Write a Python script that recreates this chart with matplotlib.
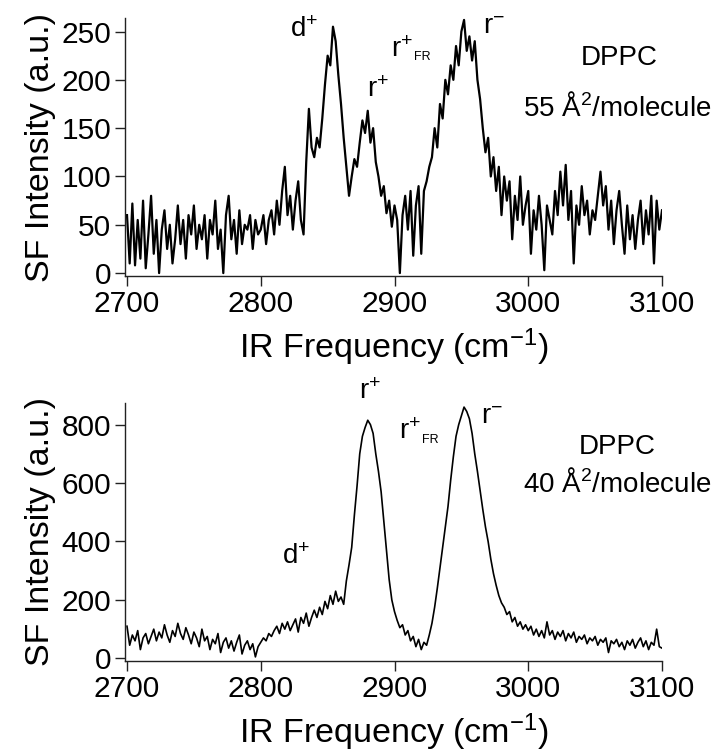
import numpy as np
import matplotlib
matplotlib.use("Agg")
import matplotlib.pyplot as plt

plt.rcParams['font.family'] = ['Liberation Sans', 'DejaVu Sans']
plt.rcParams['mathtext.fontset'] = 'custom'
plt.rcParams['mathtext.rm'] = 'Liberation Sans'
plt.rcParams['mathtext.it'] = 'Liberation Sans:italic'
plt.rcParams['mathtext.bf'] = 'Liberation Sans:bold'

# IR frequency grid (cm^-1), 2 cm^-1 steps
freq = np.arange(2700, 3101, 2)

# SF intensity, DPPC 55 A^2/molecule (top)
sf_55 = [
    60, 10, 72, 8, 55, 15, 75, 5, 40, 80,
    20, 55, 0, 45, 65, 25, 50, 10, 35, 70,
    30, 55, 15, 60, 40, 70, 25, 50, 35, 60,
    15, 55, 40, 75, 25, 45, 0, 60, 80, 35,
    55, 20, 65, 30, 50, 45, 60, 25, 55, 40,
    45, 60, 30, 55, 65, 40, 75, 50, 85, 110,
    60, 80, 45, 75, 95, 55, 40, 115, 170, 130,
    120, 140, 130, 160, 195, 225, 215, 255, 240, 205,
    175, 140, 110, 80, 100, 118, 110, 135, 158, 145,
    168, 135, 150, 115, 100, 80, 90, 62, 75, 48,
    70, 55, 0, 60, 80, 45, 85, 18, 70, 90,
    20, 85, 95, 110, 120, 150, 130, 175, 160, 200,
    185, 215, 200, 235, 215, 250, 262, 230, 245, 220,
    240, 200, 180, 150, 125, 140, 100, 120, 85, 110,
    60, 100, 75, 95, 35, 80, 55, 100, 50, 70,
    85, 20, 65, 45, 80, 50, 3, 70, 55, 40,
    85, 60, 105, 70, 112, 55, 85, 10, 70, 50,
    90, 60, 75, 40, 65, 55, 80, 105, 70, 90,
    45, 75, 30, 65, 85, 50, 20, 70, 35, 60,
    25, 55, 75, 30, 65, 40, 80, 10, 75, 45,
    65,
]

# SF intensity, DPPC 40 A^2/molecule (bottom)
sf_40 = [
    110, 45, 80, 60, 95, 30, 70, 85, 50, 75,
    100, 60, 90, 70, 115, 80, 55, 95, 75, 120,
    85, 65, 105, 80, 50, 90, 70, 40, 100, 60,
    75, 30, 65, 50, 85, 20, 55, 70, 35, 60,
    25, 55, 80, 15, 45, 60, 30, 50, 5, 40,
    55, 70, 60, 85, 75, 95, 110, 85, 120, 100,
    125, 95, 115, 135, 90, 140, 120, 155, 110, 140,
    165, 140, 175, 150, 195, 170, 215, 185, 230, 195,
    210, 185, 265, 320, 380, 490, 590, 700, 760, 790,
    815, 800, 770, 700, 640, 570, 470, 370, 270, 200,
    160, 130, 105, 115, 80, 95, 60, 75, 40, 65,
    30, 55, 45, 80, 120, 175, 240, 310, 380, 450,
    520, 610, 690, 760, 800, 830, 860, 845, 820, 770,
    700, 640, 575, 510, 450, 400, 340, 290, 250, 215,
    190, 175, 150, 160, 125, 140, 110, 125, 100, 115,
    95, 110, 80, 100, 75, 95, 70, 125, 80, 95,
    65, 90, 75, 95, 60, 85, 70, 90, 55, 75,
    65, 80, 50, 70, 60, 75, 45, 65, 55, 70,
    20, 60, 50, 65, 40, 55, 30, 60, 45, 65,
    35, 55, 70, 40, 60, 30, 55, 45, 100, 40,
    35,
]

x_ticks = [2700, 2800, 2900, 3000, 3100]
y_ticks_55 = [0, 50, 100, 150, 200, 250]
y_ticks_40 = [0, 200, 400, 600, 800]

W, H = 719, 756
fig = plt.figure(figsize=(W / 100, H / 100), dpi=100)


def px_axes(left, top, right, bottom):
    return fig.add_axes([left / W, 1 - bottom / H, (right - left) / W, (bottom - top) / H])


def style(ax, yticks):
    for s in ('top', 'right'):
        ax.spines[s].set_visible(False)
    for s in ('left', 'bottom'):
        ax.spines[s].set_linewidth(1.0)
        ax.spines[s].set_color('#222222')
    ax.set_xticks(x_ticks)
    ax.set_yticks(yticks)
    ax.tick_params(axis='both', direction='out', length=7, width=1.0,
                   labelsize=21.5, color='#222222', pad=3)
    ax.set_xlabel(r'IR Frequency (cm$\mathregular{^{-1}}$)', fontsize=24.5, labelpad=6)
    ax.set_ylabel('SF Intensity (a.u.)', fontsize=24.5, labelpad=4)


def ftext(px, py, s, size=20, ha='center', va='center'):
    fig.text(px / W, 1 - py / H, s, fontsize=size, ha=ha, va=va)


# Top panel
ax1 = px_axes(125, 18, 662, 276)
ax1.plot(freq, sf_55, color='black', lw=1.6)
ax1.set_xlim(2698.5, 3100)
ax1.set_ylim(-3, 264)
style(ax1, y_ticks_55)

ftext(304, 30, r'$\mathregular{d^{+}}$')
ftext(378, 90, r'$\mathregular{r^{+}}$')
ftext(402, 50, r'$\mathregular{r^{+}}$')
ftext(422, 57, 'FR', size=9)
ftext(494, 27, r'$\mathregular{r^{-}}$')
ftext(619, 58, 'DPPC')
ftext(617, 108, r'55 Å$\mathregular{^{2}}$/molecule')

# Bottom panel
ax2 = px_axes(125, 403, 662, 661)
ax2.plot(freq, sf_40, color='black', lw=1.2)
ax2.set_xlim(2698.5, 3100)
ax2.set_ylim(-9, 874)
style(ax2, y_ticks_40)

ftext(296, 557, r'$\mathregular{d^{+}}$')
ftext(370, 392, r'$\mathregular{r^{+}}$')
ftext(410, 432, r'$\mathregular{r^{+}}$')
ftext(430, 440, 'FR', size=9)
ftext(492, 417, r'$\mathregular{r^{-}}$')
ftext(617, 447, 'DPPC')
ftext(617, 484, r'40 Å$\mathregular{^{2}}$/molecule')

fig.savefig('out.png', dpi=100)
